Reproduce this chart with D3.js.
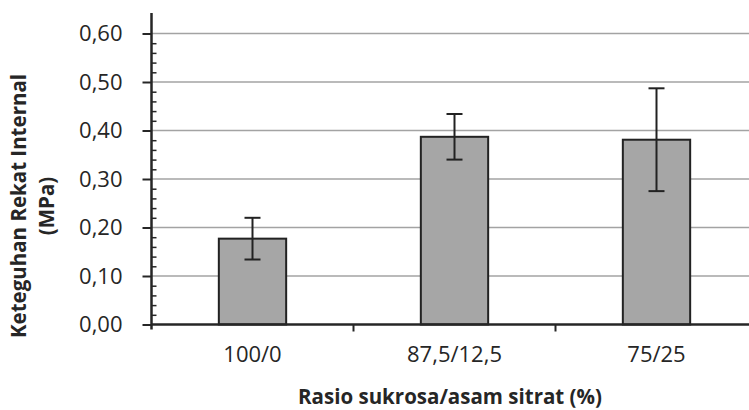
<!DOCTYPE html>
<html>
<head>
<meta charset="utf-8">
<script src="https://cdn.jsdelivr.net/npm/d3@7"></script>
<style>
  body { margin: 0; background: #fff; }
  svg { display: block; font-family: "Open Sans", sans-serif; }
</style>
</head>
<body>
<div id="chart"></div>
<script>
// --- DATA ---
const categories = ["100/0", "87,5/12,5", "75/25"];
const means = [0.177, 0.387, 0.381];
const errors = [0.043, 0.047, 0.106];
const yTicks = [0, 0.1, 0.2, 0.3, 0.4, 0.5, 0.6];
const yTickLabels = ["0,00", "0,10", "0,20", "0,30", "0,40", "0,50", "0,60"];

const width = 749, height = 410;
const margin = {top: 33.5, left: 151.5, bottom: 85.5};
const plotRight = 757.5; // plot area runs past the right edge

const svg = d3.select("#chart").append("svg")
    .attr("width", width)
    .attr("height", height);

const x = d3.scaleBand()
    .domain(categories)
    .range([margin.left, plotRight])
    .paddingInner(2 / 3)
    .paddingOuter(1 / 3);

const y = d3.scaleLinear()
    .domain([0, 0.6])
    .range([height - margin.bottom, margin.top]);

// gridlines
svg.append("g")
    .selectAll("line")
    .data(yTicks.slice(1))
    .enter().append("line")
    .attr("x1", margin.left)
    .attr("x2", width)
    .attr("y1", d => y(d))
    .attr("y2", d => y(d))
    .attr("stroke", "#a3a3a3")
    .attr("stroke-width", 1.6);

// bars
svg.append("g")
    .selectAll("rect")
    .data(means)
    .enter().append("rect")
    .attr("x", (d, i) => x(categories[i]))
    .attr("y", d => y(d))
    .attr("width", x.bandwidth())
    .attr("height", d => y(0) - y(d))
    .attr("fill", "#a6a6a6")
    .attr("stroke", "#222")
    .attr("stroke-width", 2);

// error bars
const errG = svg.append("g")
    .attr("stroke", "#222")
    .attr("stroke-width", 2);
means.forEach((m, i) => {
    const cx = x(categories[i]) + x.bandwidth() / 2;
    const top = y(m + errors[i]), bot = y(m - errors[i]);
    errG.append("line").attr("x1", cx).attr("x2", cx).attr("y1", top).attr("y2", bot);
    errG.append("line").attr("x1", cx - 8).attr("x2", cx + 8).attr("y1", top).attr("y2", top);
    errG.append("line").attr("x1", cx - 8).attr("x2", cx + 8).attr("y1", bot).attr("y2", bot);
});

// y axis: major ticks + labels
const yAxis = svg.append("g")
    .attr("transform", `translate(${margin.left},0)`)
    .call(d3.axisLeft(y)
        .tickValues(yTicks)
        .tickFormat((d, i) => yTickLabels[i])
        .tickSize(9)
        .tickPadding(20))
    .attr("font-family", null)
    .attr("font-size", null);
yAxis.select(".domain").remove();
yAxis.selectAll(".tick line").attr("stroke", "#262626").attr("stroke-width", 2);
yAxis.selectAll(".tick text")
    .attr("fill", "#262626")
    .style("font-size", "22px");

// minor ticks (inside)
const minor = d3.range(0, 0.6001, 0.02).filter(v => Math.abs(v * 10 - Math.round(v * 10)) > 1e-6);
const yMinor = svg.append("g")
    .attr("transform", `translate(${margin.left},0)`)
    .call(d3.axisRight(y).tickValues(minor).tickFormat("").tickSize(5));
yMinor.select(".domain").remove();
yMinor.selectAll(".tick line").attr("stroke", "#262626").attr("stroke-width", 1.5);

// y axis line
svg.append("line")
    .attr("x1", margin.left).attr("x2", margin.left)
    .attr("y1", 13).attr("y2", y(0) + 5)
    .attr("stroke", "#262626")
    .attr("stroke-width", 2.5);

// x axis
const xAxis = svg.append("g")
    .attr("transform", `translate(0,${y(0)})`)
    .call(d3.axisBottom(x).tickSize(0).tickPadding(22))
    .attr("font-family", null)
    .attr("font-size", null);
xAxis.select(".domain").remove();
xAxis.selectAll(".tick text")
    .attr("fill", "#262626")
    .style("font-size", "22px");

// category boundary ticks
svg.append("g")
    .selectAll("line")
    .data(categories.slice(1))
    .enter().append("line")
    .attr("x1", d => x(d) - x.step() * x.paddingInner() / 2)
    .attr("x2", d => x(d) - x.step() * x.paddingInner() / 2)
    .attr("y1", y(0))
    .attr("y2", y(0) + 7)
    .attr("stroke", "#262626")
    .attr("stroke-width", 2);

svg.append("line")
    .attr("x1", margin.left).attr("x2", width)
    .attr("y1", y(0)).attr("y2", y(0))
    .attr("stroke", "#262626")
    .attr("stroke-width", 2.5);

// axis titles
svg.append("text")
    .attr("x", 450)
    .attr("y", 404)
    .attr("text-anchor", "middle")
    .attr("fill", "#262626")
    .style("font-size", "20.5px")
    .style("font-weight", "bold")
    .text("Rasio sukrosa/asam sitrat (%)");

const yTitle = svg.append("text")
    .attr("transform", "translate(0,206) rotate(-90)")
    .attr("text-anchor", "middle")
    .attr("fill", "#262626")
    .style("font-size", "20.5px")
    .style("font-weight", "bold");
yTitle.append("tspan").attr("x", 0).attr("y", 26).text("Keteguhan Rekat Internal");
yTitle.append("tspan").attr("x", 0).attr("y", 54).text("(MPa)");
</script>
</body>
</html>
